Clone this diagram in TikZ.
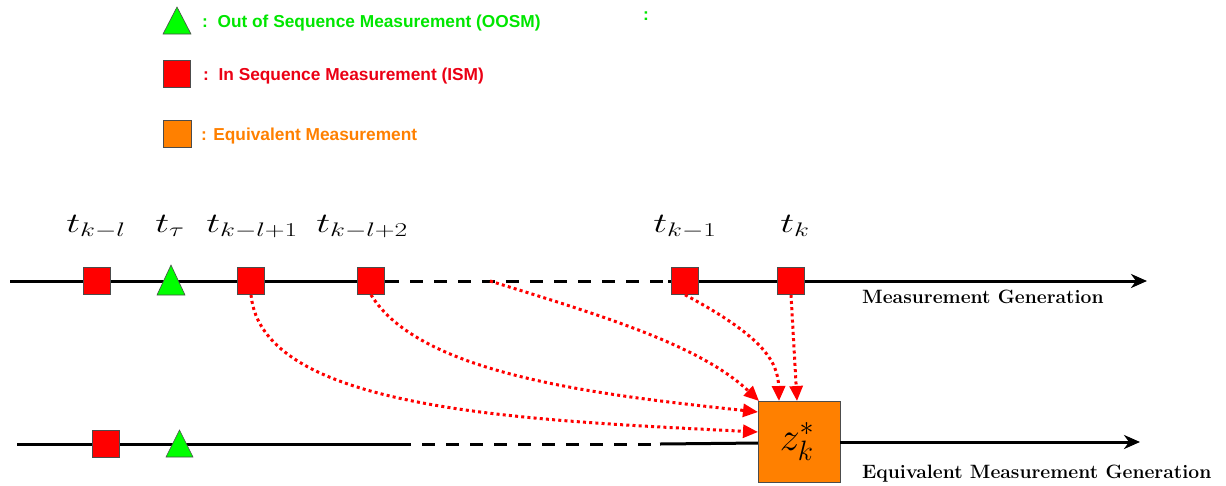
\RequirePackage{fix-cm}
\documentclass[tikz,border=0pt]{standalone}
\usepackage{fontspec}
\newfontfamily\legendfont{Liberation Sans}
\usetikzlibrary{arrows.meta}
\definecolor{legGreen}{RGB}{0,230,0}
\definecolor{legRed}{RGB}{235,0,20}
\definecolor{legOrange}{RGB}{255,128,0}
\definecolor{boxOrange}{RGB}{255,128,0}
\tikzset{
  ism/.style={draw=black!70,line width=0.6pt,fill=red,minimum width=27pt,minimum height=27pt,inner sep=0pt},
  eqbox/.style={draw=black!70,line width=0.6pt,fill=boxOrange,minimum width=82pt,minimum height=81pt,inner sep=0pt},
  oosm/.style={draw=black!70,line width=0.6pt,fill=green},
  axis/.style={line width=3pt},
  dashaxis/.style={line width=3pt,dash pattern=on 13pt off 11pt},
  flow/.style={red,line width=3pt,dash pattern=on 3pt off 3.2pt,-{Triangle[length=15pt,width=13pt]}},
  axarrow/.style={line width=3pt,-{Stealth[length=16pt,width=14pt,inset=5pt]}},
  legtext/.style={anchor=base west,inner sep=0pt,font=\legendfont\bfseries\fontsize{17.3}{19}\selectfont},
  timelabel/.style={anchor=base west,inner sep=0pt,xscale=1.4,font=\fontsize{28}{32}\selectfont},
  axlabel/.style={anchor=base west,inner sep=0pt,font=\bfseries\fontsize{19.3}{22}\selectfont}
}
\begin{document}
\begin{tikzpicture}[x=1pt,y=-1pt]
\useasboundingbox (0,0) rectangle (1226,485);
% legend
\path[oosm] (163,34) -- (191,34) -- (177,7) -- cycle;
\node[ism] (legism) at (177,74) {};
\node[ism,fill=boxOrange,minimum width=28pt,minimum height=27pt] (legeq) at (177,134) {};
\node[legtext,text=legGreen] (t1) at (202,27) {:\ \ Out of Sequence Measurement (OOSM)};
\node[legtext,text=legRed] (t2) at (203,80) {:\ \ In Sequence Measurement (ISM)};
\node[legtext,text=legOrange] (t3) at (201,140) {: Equivalent Measurement};
\node[legtext,text=legGreen] (t4) at (643,20) {:};
% top axis
\coordinate (ta0) at (10,281);
\coordinate (ta1) at (386,281);
\coordinate (ta2) at (668,281);
\coordinate (ta3) at (1147,281);
\coordinate (tm) at (490,281);
\draw[axis] (ta0) -- (ta1);
\draw[dashaxis] (ta1) -- (ta2);
\draw[axarrow] (ta2) -- (ta3);
\node[ism] (s1) at (97,281) {};
\path[oosm] (157,295) -- (185,295) -- (171,265) -- cycle;
\node[ism] (s2) at (251,281) {};
\node[ism] (s3) at (371,281) {};
\node[ism] (s4) at (685,281) {};
\node[ism] (s5) at (791,281) {};
\node[timelabel] (l1) at (66,232) {$t_{k-l}$};
\node[timelabel] (l2) at (155,232) {$t_{\tau}$};
\node[timelabel] (l3) at (206,232) {$t_{k-l+1}$};
\node[timelabel] (l4) at (316,232) {$t_{k-l+2}$};
\node[timelabel] (l5) at (653,232) {$t_{k-1}$};
\node[timelabel] (l6) at (780,232) {$t_{k}$};
\node[axlabel] (g1) at (862,303) {Measurement Generation};
% bottom axis
\coordinate (ba0) at (17,444);
\coordinate (ba1) at (398,444);
\coordinate (ba2) at (660,444);
\coordinate (ba3) at (1140,442);
\draw[axis] (ba0) -- (ba1);
\draw[dashaxis] (ba1) -- (ba2);
\draw[axis] (ba2) -- (760,443);
\node[ism] (b1) at (106,444) {};
\path[oosm] (166,457) -- (193,457) -- (179.5,430) -- cycle;
\node[eqbox] (z) at (799,441.5) {\fontsize{40}{44}\selectfont$z_k^{*}$\hspace*{4pt}};
\draw[axarrow] (z.east |- ba3) -- (ba3);
\node[axlabel] (g2) at (862,478) {Equivalent Measurement Generation};
% flows
\coordinate (e1) at (758,432);
\coordinate (e2) at (758,412);
\coordinate (e3) at (759,401);
\coordinate (e4) at (779,401);
\coordinate (e5) at (797,401);
\draw[flow] (s2.south) .. controls (262,410) and (520,420) .. (e1);
\draw[flow] (s3.south) .. controls (420,375) and (600,395) .. (e2);
\draw[flow] (tm) .. controls (600,315) and (700,345) .. (e3);
\draw[flow] (s4.south) .. controls (760,335) and (778,360) .. (e4);
\draw[flow] (s5.south) -- (e5);
\end{tikzpicture}
\end{document}
